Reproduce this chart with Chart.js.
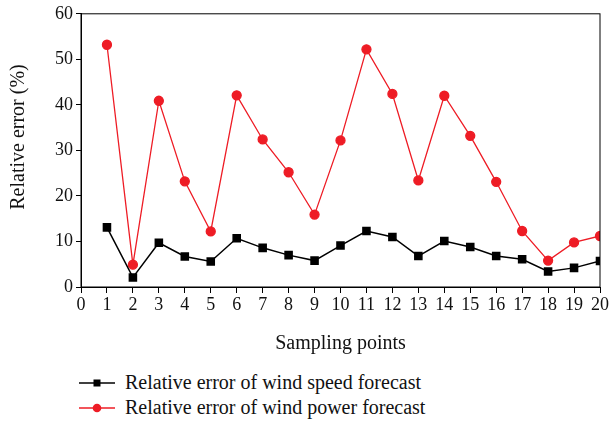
<!DOCTYPE html>
<html>
<head>
<meta charset="utf-8">
<script src="https://cdn.jsdelivr.net/npm/chart.js@4/dist/chart.umd.min.js"></script>
<style>
  body { margin: 0; background: #fff; }
  #wrap { position: relative; width: 610px; height: 360px; }
  .legend { font-family: "Liberation Serif", serif; font-size: 20px; color: #111; margin-left: 79px; margin-top: 10px; }
  .legend div { display: flex; align-items: center; height: 25px; }
  .legend svg { margin-right: 10px; }
</style>
</head>
<body>
<div id="wrap"><canvas id="errChart" width="610" height="360"></canvas></div>
<div class="legend">
  <div><svg width="36" height="10"><line x1="0" y1="5" x2="36" y2="5" stroke="#000" stroke-width="1.5"/><rect x="14.5" y="1.5" width="7" height="7" fill="#000"/></svg>Relative error of wind speed forecast</div>
  <div><svg width="36" height="10"><line x1="0" y1="5" x2="36" y2="5" stroke="#ee1c25" stroke-width="1.3"/><circle cx="18" cy="5" r="4.3" fill="#ee1c25"/></svg>Relative error of wind power forecast</div>
</div>
<script>
const samplingPoints = [1, 2, 3, 4, 5, 6, 7, 8, 9, 10, 11, 12, 13, 14, 15, 16, 17, 18, 19, 20];
const windSpeedError = [13.1, 2.1, 9.7, 6.7, 5.6, 10.7, 8.6, 7.0, 5.8, 9.1, 12.3, 11.0, 6.8, 10.1, 8.8, 6.8, 6.1, 3.4, 4.2, 5.7];
const windPowerError = [53.2, 4.9, 40.9, 23.2, 12.2, 42.1, 32.4, 25.2, 15.9, 32.2, 52.2, 42.4, 23.4, 42.0, 33.2, 23.1, 12.3, 5.8, 9.8, 11.2];
const yTickLabels = [0, 10, 20, 30, 40, 50, 60];

const toXY = (vals) => samplingPoints.map((p, i) => ({ x: p, y: vals[i] }));
const tickFont = { family: "Liberation Serif", size: 18 };

// box round the plot area + y axis title
const frame = {
  id: "frame",
  afterDraw(chart) {
    const { ctx, chartArea: a } = chart;
    ctx.save();
    ctx.strokeStyle = "#000";
    ctx.lineWidth = 1;
    ctx.strokeRect(a.left, a.top, a.right - a.left, a.bottom - a.top);
    ctx.translate(19, 137);
    ctx.rotate(-Math.PI / 2);
    ctx.fillStyle = "#111";
    ctx.font = '20px "Liberation Serif"';
    ctx.textAlign = "center";
    ctx.textBaseline = "middle";
    ctx.fillText("Relative error (%)", 0, 0);
    ctx.restore();
  }
};

new Chart(document.getElementById("errChart"), {
  type: "line",
  data: {
    datasets: [
      {
        label: "Relative error of wind speed forecast",
        data: toXY(windSpeedError),
        borderColor: "#000",
        backgroundColor: "#000",
        borderWidth: 1.5,
        pointStyle: "rect",
        pointRadius: 5,
        tension: 0
      },
      {
        label: "Relative error of wind power forecast",
        data: toXY(windPowerError),
        borderColor: "#ee1c25",
        backgroundColor: "#ee1c25",
        borderWidth: 1.3,
        pointStyle: "circle",
        pointRadius: 4.5,
        tension: 0
      }
    ]
  },
  options: {
    responsive: false,
    animation: false,
    layout: { padding: { left: 0, right: 9, top: -3, bottom: 0 } },
    plugins: { legend: { display: false }, tooltip: { enabled: false } },
    scales: {
      x: {
        type: "linear",
        min: 0,
        max: 20,
        ticks: { stepSize: 1, color: "#111", font: tickFont, padding: 1, maxRotation: 0, autoSkip: false },
        grid: { drawOnChartArea: false, tickLength: 6, color: "#000" },
        border: { color: "#000", width: 1 },
        title: { display: true, text: "Sampling points", color: "#111", font: { family: "Liberation Serif", size: 20 }, padding: { top: 4 } },
        afterFit: (s) => { s.height = 73; }
      },
      y: {
        min: 0,
        max: 60,
        ticks: {
          stepSize: 5,
          color: "#111",
          font: tickFont,
          padding: 3,
          callback: (v) => (yTickLabels.includes(v) ? v : "")
        },
        grid: { drawOnChartArea: false, tickLength: 5, color: "#000" },
        border: { color: "#000", width: 1 },
        afterFit: (s) => { s.width = 81; }
      }
    }
  },
  plugins: [frame]
});
</script>
</body>
</html>
